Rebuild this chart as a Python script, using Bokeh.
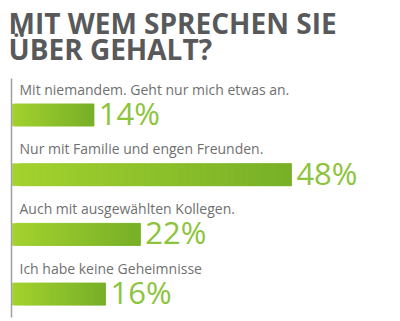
from bokeh.plotting import figure
from bokeh.models import Range1d, ColumnDataSource, Label
from bokeh.core.properties import value
from bokeh.embed import file_html
from bokeh.resources import INLINE

# ---- data ----
title_lines = ["MIT WEM SPRECHEN SIE", "ÜBER GEHALT?"]
categories = [
    "Mit niemandem. Geht nur mich etwas an.",
    "Nur mit Familie und engen Freunden.",
    "Auch mit ausgewählten Kollegen.",
    "Ich habe keine Geheimnisse",
]
percents = [14, 48, 22, 16]

# ---- layout / style ----
W, H = 400, 321
PX_PER_PCT = 5.81
X0 = 12  # pixel where bars start
ROW0 = 114.5
ROW_STEP = 59.7
BAR_H = 22
LEFT_RGB = (163, 210, 46)
RIGHT_RGB = (120, 176, 40)
PCT_COLOR = "#8cc43c"
TITLE_COLOR = "#58595b"
LABEL_COLOR = "#707070"
NSLICE = 40
LAB_SIZE = 14
PCT_SIZE = 31
TITLE_SIZE = 28

p = figure(width=W, height=H, output_backend="svg", toolbar_location=None,
           x_axis_type=None, y_axis_type=None,
           x_range=Range1d(-X0 / PX_PER_PCT, (W - X0) / PX_PER_PCT),
           y_range=Range1d(H, 0), min_border=0)
p.outline_line_color = None
p.grid.visible = False
p.background_fill_color = "white"
p.border_fill_color = "white"

centers = [ROW0 + i * ROW_STEP for i in range(len(categories))]

# gradient bars (overlapping slices, drawn left to right)
lefts, rights, tops, bottoms, colors = [], [], [], [], []
for c, v in zip(centers, percents):
    for k in range(NSLICE):
        t = k / (NSLICE - 1)
        rgb = tuple(int(round(a + (b - a) * t)) for a, b in zip(LEFT_RGB, RIGHT_RGB))
        lefts.append(v * k / NSLICE)
        rights.append(min(v, v * (k + 2) / NSLICE))
        tops.append(c - BAR_H / 2)
        bottoms.append(c + BAR_H / 2)
        colors.append("#%02x%02x%02x" % rgb)
p.quad(left=lefts, right=rights, top=tops, bottom=bottoms, fill_color=colors,
       line_color=colors, line_width=0.6)

# vertical axis line
p.segment(x0=[-1 / PX_PER_PCT], x1=[-1 / PX_PER_PCT], y0=[78], y1=[317],
          line_color="#a0a0a0", line_width=1.5)

# category labels
lab_src = ColumnDataSource(dict(x=[7 / PX_PER_PCT] * len(categories),
                                y=[c - BAR_H / 2 - 9 - 0.42 * LAB_SIZE for c in centers],
                                t=categories))
p.text(x="x", y="y", text="t", source=lab_src, text_font=value("Open Sans"),
       text_font_size=f"{LAB_SIZE}px", text_color=LABEL_COLOR, text_baseline="alphabetic")

# percent labels
pct_src = ColumnDataSource(dict(x=[v + 5 / PX_PER_PCT for v in percents],
                                y=[c + BAR_H / 2 - 0.42 * PCT_SIZE for c in centers],
                                t=[f"{v}%" for v in percents]))
p.text(x="x", y="y", text="t", source=pct_src, text_font=value("Open Sans"),
       text_font_size=f"{PCT_SIZE}px", text_color=PCT_COLOR, text_baseline="alphabetic")

# title
for i, line in enumerate(title_lines):
    p.add_layout(Label(x=8, y=H - (32 + 26 * i) + 0.35 * TITLE_SIZE,
                       x_units="screen", y_units="screen",
                       text=line, text_font="Open Sans", text_font_style="bold",
                       text_font_size=f"{TITLE_SIZE}px", text_color=TITLE_COLOR,
                       text_baseline="alphabetic"))

open("out.html", "w").write(file_html(p, INLINE))
